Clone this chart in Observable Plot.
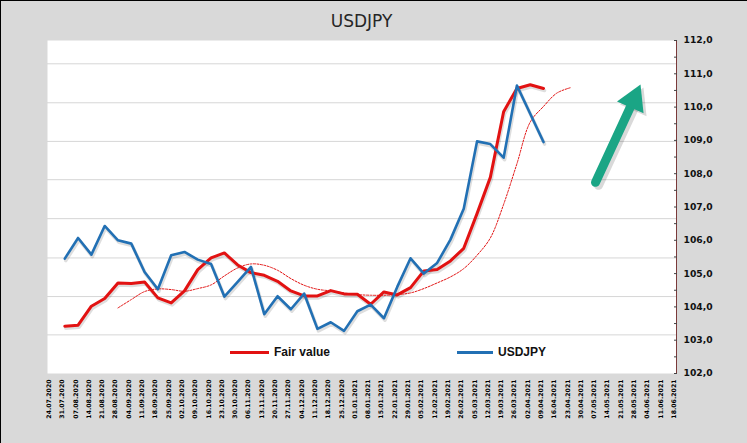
<!DOCTYPE html>
<html><head><meta charset="utf-8">
<script src="https://cdn.jsdelivr.net/npm/d3@7"></script>
<script src="https://cdn.jsdelivr.net/npm/@observablehq/plot@0.6"></script>
<style>
html,body{margin:0;padding:0;background:#d9d9d9;overflow:hidden;}
#wrap{position:relative;width:747px;height:443px;}
#wrap svg{position:absolute;left:0;top:0;}
.ov{position:absolute;white-space:nowrap;}
#title{left:47px;width:629px;top:12px;text-align:center;font:17px "DejaVu Sans",sans-serif;line-height:18px;color:#262626;}
.lg{font:bold 12px "Liberation Sans",Arial,sans-serif;line-height:14px;color:#111;top:345px;}
.sw{height:3px;}
</style></head>
<body>
<div id="wrap"></div>
<script>
const dates = ["24.07.2020","31.07.2020","07.08.2020","14.08.2020","21.08.2020","28.08.2020","04.09.2020","11.09.2020","18.09.2020","25.09.2020","02.10.2020","09.10.2020","16.10.2020","23.10.2020","30.10.2020","06.11.2020","13.11.2020","20.11.2020","27.11.2020","04.12.2020","11.12.2020","18.12.2020","25.12.2020","01.01.2021","08.01.2021","15.01.2021","22.01.2021","29.01.2021","05.02.2021","12.02.2021","19.02.2021","26.02.2021","05.03.2021","12.03.2021","19.03.2021","26.03.2021","02.04.2021","09.04.2021","16.04.2021","23.04.2021","30.04.2021","07.05.2021","14.05.2021","21.05.2021","28.05.2021","04.06.2021","11.06.2021","18.06.2021"];

const fairValue = [null,103.42,103.45,104.02,104.25,104.72,104.70,104.75,104.27,104.12,104.48,105.12,105.47,105.62,105.26,105.03,104.95,104.77,104.48,104.33,104.33,104.49,104.39,104.38,104.08,104.45,104.36,104.58,105.08,105.12,105.38,105.76,106.80,107.89,109.86,110.56,110.67,110.56];

const usdjpy = [null,105.45,106.07,105.57,106.43,106.00,105.90,105.05,104.53,105.55,105.65,105.42,105.29,104.31,104.75,105.20,103.78,104.32,103.93,104.40,103.34,103.54,103.28,103.87,104.07,103.66,104.60,105.46,105.00,105.32,106.02,106.95,108.97,108.89,108.48,110.65,109.80,108.95];

const fairValueTrend = [null,null,null,null,null,103.97,104.22,104.46,104.54,104.52,104.47,104.55,104.66,104.93,105.17,105.29,105.25,105.10,104.85,104.65,104.53,104.48,104.42,104.37,104.35,104.35,104.37,104.42,104.55,104.72,104.90,105.15,105.55,106.07,107.08,108.30,109.55,110.02,110.42,110.58];

const yTicks = [102,103,104,105,106,107,108,109,110,111,112];
const yMinorTicks = [102,102.5,103,103.5,104,104.5,105,105.5,106,106.5,107,107.5,108,108.5,109,109.5,110,110.5,111,111.5,112];
const gridLevels = [103.16,104.31,105.47,106.65,107.82,108.97,110.13,111.30];

// decorative green arrow (index, value)
const arrowShaft = [{i:40.91, v:107.74},{i:43.78, v:110.22}];
const arrowHead = [{i:43.78, v:110.22}];

const RED = "#e21212", BLUE = "#2270b4", GREEN = "#1aa585";
const toRows = arr => arr.map((v,i)=>({i, v})).filter(d => d.v != null);
const fvRows = toRows(fairValue), fxRows = toRows(usdjpy), trRows = toRows(fairValueTrend);

const chart = Plot.plot({
  width: 747, height: 443,
  marginLeft: 47, marginRight: 71, marginTop: 40, marginBottom: 70,
  style: {background: "transparent", overflow: "visible", fontFamily: "DejaVu Sans"},
  x: {type: "linear", domain: [-0.3, dates.length - 1], axis: null},
  y: {domain: [102, 112], axis: null},
  marks: [
    Plot.frame({fill: "white", stroke: null}),
    Plot.ruleY(gridLevels, {stroke: "#d6d6d6", strokeWidth: 1}),
    Plot.axisX(dates.map((d,i)=>i), {anchor: "bottom", tickSize: 0, tickPadding: 6, tickRotate: -90,
      tickFormat: i => dates[i], fontSize: 6.2, fontWeight: "bold", fill: "#000", dx: -2.5, label: null}),
    // right axis
    Plot.ruleX([dates.length - 1], {stroke: "#7a3a3a", strokeWidth: 1}),
    Plot.axisY(yMinorTicks, {anchor: "right", tickSize: 3, insetRight: 3, fill: "none", stroke: "#444", label: null}),
    Plot.axisY(yTicks, {anchor: "right", tickSize: 0, tickPadding: 7,
      tickFormat: v => v.toFixed(1).replace(".", ","), fontSize: 9.2, fontWeight: "bold", fill: "#111", label: null}),
    // shadows
    Plot.line(fvRows, {x: "i", y: "v", stroke: "#000", strokeOpacity: 0.13, strokeWidth: 3.5, dx: 1, dy: 2}),
    Plot.line(fxRows, {x: "i", y: "v", stroke: "#000", strokeOpacity: 0.13, strokeWidth: 3.5, dx: 1, dy: 2}),
    // series
    Plot.line(trRows, {x: "i", y: "v", stroke: RED, strokeWidth: 1, strokeDasharray: "2,1.5", curve: "catmull-rom"}),
    Plot.line(fvRows, {x: "i", y: "v", stroke: RED, strokeWidth: 3, strokeLinejoin: "round"}),
    Plot.line(fxRows, {x: "i", y: "v", stroke: BLUE, strokeWidth: 2.6, strokeLinejoin: "round"}),
    // arrow
    Plot.line(arrowShaft, {x: "i", y: "v", stroke: "#000", strokeOpacity: 0.15, strokeWidth: 9, strokeLinecap: "round", dx: 3, dy: 3}),
    Plot.dot(arrowHead, {x: "i", y: "v", symbol: "triangle", r: 10.8, rotate: 24, fill: "#000", fillOpacity: 0.15, stroke: null, dx: 3, dy: 3}),
    Plot.line(arrowShaft, {x: "i", y: "v", stroke: GREEN, strokeWidth: 9, strokeLinecap: "round"}),
    Plot.dot(arrowHead, {x: "i", y: "v", symbol: "triangle", r: 10.8, rotate: 24, fill: GREEN, stroke: null})
  ]
});

const wrap = document.getElementById("wrap");
wrap.appendChild(chart);
const add = (cls, css, txt) => { const d = document.createElement("div"); d.className = "ov " + cls; d.style.cssText = css; if (txt) d.textContent = txt; wrap.appendChild(d); };
add("", "left:0;top:0;width:747px;height:1px;background:#000;");
add("", "left:0;top:0;width:1px;height:443px;background:#000;");
const t = document.createElement("div"); t.className = "ov"; t.id = "title"; t.textContent = "USDJPY"; wrap.appendChild(t);
add("sw", `left:230px;top:351px;width:39px;background:${RED};`);
add("lg", "left:274px;", "Fair value");
add("sw", `left:457px;top:351px;width:36px;background:${BLUE};`);
add("lg", "left:498px;", "USDJPY");
</script>
</body></html>
